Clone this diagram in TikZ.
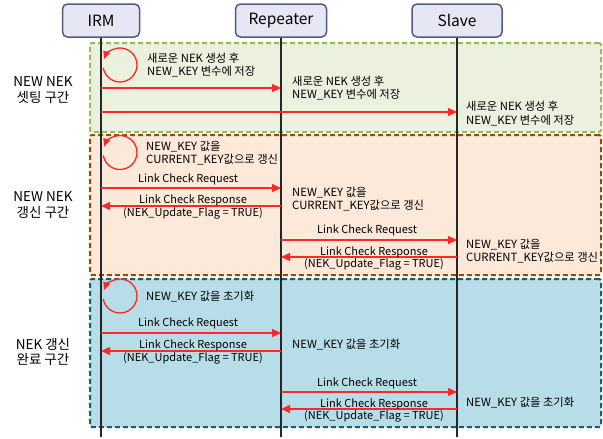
\documentclass[tikz,border=0pt]{standalone}
\usepackage{fontspec}
\setmainfont{Noto Sans CJK KR}
\usetikzlibrary{arrows.meta}
\definecolor{hdrfill}{RGB}{230,230,245}
\definecolor{hdrdraw}{RGB}{80,92,128}
\definecolor{gfill}{RGB}{235,241,222}
\definecolor{gdraw}{RGB}{155,187,89}
\definecolor{ofill}{RGB}{253,233,217}
\definecolor{odraw}{RGB}{152,72,7}
\definecolor{bfill}{RGB}{183,222,232}
\definecolor{bdraw}{RGB}{33,89,104}
\definecolor{msgred}{RGB}{255,40,40}
\begin{document}
\begin{tikzpicture}[x=1pt,y=-1pt,
  hdr/.style={draw=hdrdraw, line width=1.5pt, fill=hdrfill, rounded corners=5pt,
    minimum height=33pt, font=\fontsize{15.5}{18}\selectfont, inner sep=0pt},
  zone/.style={line width=2pt, dash pattern=on 5pt off 3pt, rounded corners=2pt,
    minimum width=511pt, inner sep=0pt},
  life/.style={draw=black!85, line width=1.2pt},
  msg/.style={draw=msgred, line width=1.3pt, -{Triangle[length=9pt,width=8pt]}},
  loopmsg/.style={draw=msgred, line width=1.3pt, -{Triangle[length=8pt,width=7pt]}},
  lbl/.style={font=\fontsize{11.3}{13.5}\selectfont, inner sep=0pt, align=left},
  clbl/.style={font=\fontsize{11}{12.5}\selectfont, inner sep=0pt, align=center},
  sect/.style={font=\fontsize{13.5}{15.5}\selectfont, inner sep=0pt, align=center}]
\useasboundingbox (0,0) rectangle (603,439);
\fill[white] (0,0) rectangle (603,439);
% zones
\node[zone, draw=gdraw, fill=gfill, minimum height=89pt] (zg) at (345.5,87.5) {};
\node[zone, draw=odraw, fill=ofill, minimum height=140pt] (zo) at (345.5,205) {};
\node[zone, draw=bdraw, fill=bfill, minimum height=148pt] (zb) at (345.5,353) {};
% headers
\node[hdr, minimum width=77pt] (irm) at (101,20.5) {IRM};
\node[hdr, minimum width=91pt] (rep) at (281,20.5) {Repeater};
\node[hdr, minimum width=90pt] (sla) at (457,20.5) {Slave};
\coordinate (bot) at (0,437);
\draw[life] (irm.south) -- (irm.south |- bot);
\draw[life] (rep.south) -- (rep.south |- bot);
\draw[life] (sla.south) -- (sla.south |- bot);
% section labels
\node[sect] (s1) at (43,90) {NEW NEK\\셋팅 구간};
\node[sect] (s2) at (43,205) {NEW NEK\\갱신 구간};
\node[sect] (s3) at (43,352) {NEK 갱신\\완료 구간};
% row coordinates
\coordinate (y1) at (0,88);
\coordinate (y2) at (0,112);
\coordinate (y3) at (0,188);
\coordinate (y4) at (0,206);
\coordinate (y5) at (0,240);
\coordinate (y6) at (0,257);
\coordinate (y7) at (0,333);
\coordinate (y8) at (0,351);
\coordinate (y9) at (0,392);
\coordinate (y10) at (0,409);
% self loops
\coordinate (c1) at (120,65);
\coordinate (c2) at (120,152.5);
\coordinate (c3) at (120,296);
\draw[loopmsg] ([shift={(190:17pt)}]c1) arc[start angle=190, end angle=520, radius=17pt];
\draw[loopmsg] ([shift={(190:17pt)}]c2) arc[start angle=190, end angle=520, radius=17pt];
\draw[loopmsg] ([shift={(190:17pt)}]c3) arc[start angle=190, end angle=520, radius=17pt];
% green zone
\node[lbl, anchor=west] (g1) at (147,65) {새로운 NEK 생성 후\\NEW\_KEY 변수에 저장};
\draw[msg] (irm |- y1) -- (rep |- y1);
\node[lbl, anchor=west] (g2) at (292,88) {새로운 NEK 생성 후\\NEW\_KEY 변수에 저장};
\draw[msg] (irm |- y2) -- (sla |- y2);
\node[lbl, anchor=west] (g3) at (466,113.5) {새로운 NEK 생성 후\\NEW\_KEY 변수에 저장};
% orange zone
\node[lbl, anchor=west] (o1) at (146,153) {NEW\_KEY 값을\\CURRENT\_KEY값으로 갱신};
\draw[msg] (irm |- y3) -- (rep |- y3);
\node[clbl] (o2) at (188,179) {Link Check Request};
\draw[msg] (rep |- y4) -- (irm |- y4);
\node[clbl] (o3) at (193,207) {Link Check Response\\(NEK\_Update\_Flag = TRUE)};
\node[lbl, anchor=west] (o4) at (292,199) {NEW\_KEY 값을\\CURRENT\_KEY값으로 갱신};
\draw[msg] (rep |- y5) -- (sla |- y5);
\node[clbl] (o5) at (367,230) {Link Check Request};
\draw[msg] (sla |- y6) -- (rep |- y6);
\node[clbl] (o6) at (374,258.5) {Link Check Response\\(NEK\_Update\_Flag = TRUE)};
\node[lbl, anchor=west] (o7) at (466,251) {NEW\_KEY 값을\\CURRENT\_KEY값으로 갱신};
% blue zone
\node[lbl, anchor=west] (b1) at (146,297) {NEW\_KEY 값을 초기화};
\draw[msg] (irm |- y7) -- (rep |- y7);
\node[clbl] (b2) at (188,323.5) {Link Check Request};
\draw[msg] (rep |- y8) -- (irm |- y8);
\node[clbl] (b3) at (193,352) {Link Check Response\\(NEK\_Update\_Flag = TRUE)};
\node[lbl, anchor=west] (b4) at (292,345) {NEW\_KEY 값을 초기화};
\draw[msg] (rep |- y9) -- (sla |- y9);
\node[clbl] (b5) at (367,383) {Link Check Request};
\draw[msg] (sla |- y10) -- (rep |- y10);
\node[clbl] (b6) at (374,410.5) {Link Check Response\\(NEK\_Update\_Flag = TRUE)};
\node[lbl, anchor=west] (b7) at (466,403) {NEW\_KEY 값을 초기화};
\end{tikzpicture}
\end{document}
